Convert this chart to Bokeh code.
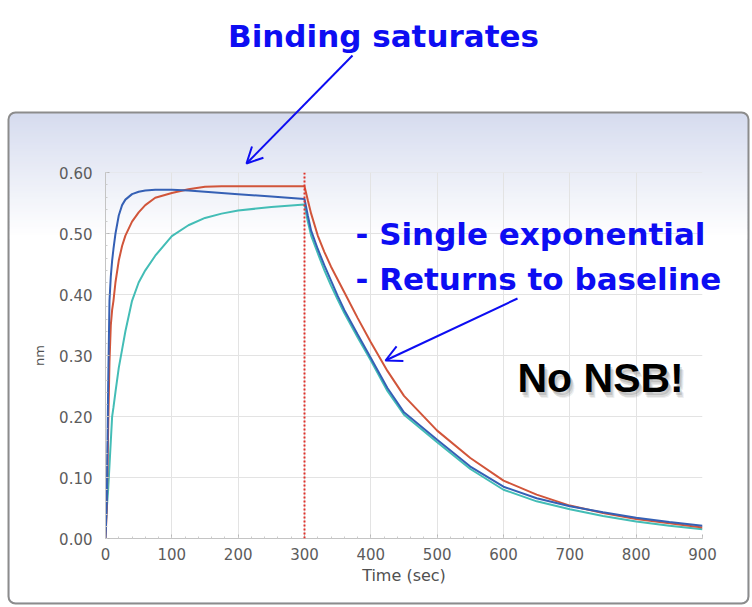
from bokeh.plotting import figure
from bokeh.models import (Label, Arrow, OpenHead, Span, BoxAnnotation,
                          SingleIntervalTicker, NumeralTickFormatter, Range1d)
from bokeh.embed import file_html
from bokeh.resources import INLINE

# ---------------- data ----------------
time_sec = [0, 2, 4, 6, 8, 10, 12, 15, 20, 25, 30, 40, 50, 60, 75, 100, 125, 150,
            175, 200, 250, 300, 305, 310, 320, 330, 340, 350, 360, 380, 400, 425,
            450, 500, 550, 600, 650, 700, 750, 800, 850, 900]

blue_nm = [0.000, 0.060, 0.250, 0.390, 0.430, 0.456, 0.475, 0.500, 0.530, 0.547,
           0.556, 0.565, 0.569, 0.571, 0.572, 0.572, 0.571, 0.569, 0.567, 0.565,
           0.561, 0.557, 0.530, 0.505, 0.475, 0.448, 0.423, 0.398, 0.375, 0.335,
           0.296, 0.247, 0.207, 0.162, 0.118, 0.085, 0.066, 0.053, 0.043, 0.034,
           0.027, 0.021]

red_nm = [0.000, 0.050, 0.180, 0.290, 0.350, 0.375, 0.390, 0.420, 0.456, 0.480,
          0.497, 0.520, 0.535, 0.547, 0.559, 0.567, 0.573, 0.577, 0.578, 0.578,
          0.578, 0.578, 0.555, 0.533, 0.497, 0.470, 0.446, 0.425, 0.404, 0.362,
          0.322, 0.275, 0.234, 0.177, 0.132, 0.095, 0.072, 0.054, 0.042, 0.032,
          0.025, 0.018]

teal_nm = [0.020, 0.050, 0.080, 0.120, 0.160, 0.200, 0.215, 0.240, 0.280, 0.310,
           0.340, 0.390, 0.420, 0.440, 0.464, 0.496, 0.514, 0.526, 0.533, 0.538,
           0.544, 0.548, 0.520, 0.497, 0.468, 0.440, 0.415, 0.392, 0.370, 0.330,
           0.292, 0.242, 0.203, 0.158, 0.114, 0.080, 0.061, 0.048, 0.037, 0.028,
           0.021, 0.015]

x_ticks_step = 100
y_ticks_step = 0.1
switch_time = 300

# ---------------- layout constants ----------------
W, H = 752, 607
FL, FR, FT, FB = 105, 702, 172, 538
XMAX, YMAX = 900, 0.6005
BLUE_TXT = "#0d0df2"
TOP_RGB = (214, 220, 239)
ABS = {"position": "absolute", "left": "0px", "top": "0px"}


def pixel_figure():
    f = figure(width=W, height=H, output_backend="svg", toolbar_location=None,
               x_range=Range1d(0, W), y_range=Range1d(H, 0),
               x_axis_type=None, y_axis_type=None, title=None,
               min_border=0)
    f.background_fill_color = None
    f.border_fill_color = None
    f.outline_line_color = None
    f.styles = ABS
    return f


# ---------------- background panel ----------------
bg = pixel_figure()


def grad_color(py, y0=113.0, y1=235.0):
    t = min(max((py - y0) / (y1 - y0), 0.0), 1.0)
    return "#%02x%02x%02x" % tuple(int(c + (255 - c) * t) for c in TOP_RGB)


bg.add_layout(BoxAnnotation(left=0, right=W, top=0, bottom=H, fill_color="white",
                            fill_alpha=1.0, line_color=None, level="image"))
bg.add_layout(BoxAnnotation(left=8, right=748, top=112, bottom=603,
                            fill_color=grad_color(113), fill_alpha=1.0,
                            line_color=None, border_radius=7))
bg.add_layout(BoxAnnotation(left=9, right=747, top=225, bottom=602,
                            fill_color="white", fill_alpha=1.0,
                            line_color=None, border_radius=6))
y = 118.0
while y < 236.0:
    bg.add_layout(BoxAnnotation(left=9, right=747, top=y, bottom=y + 3.6,
                                fill_color=grad_color(y + 1.5), fill_alpha=1.0,
                                line_color=None))
    y += 3.0
bg.add_layout(BoxAnnotation(left=8, right=748, top=112, bottom=603,
                            fill_alpha=0.0, line_color="#8c8c8c", line_alpha=1.0,
                            line_width=2, border_radius=7))

# ---------------- data chart ----------------
p = figure(width=W, height=H, output_backend="svg", toolbar_location=None,
           x_range=Range1d(0, XMAX), y_range=Range1d(0, YMAX),
           min_border_left=FL, min_border_right=W - FR,
           min_border_top=FT, min_border_bottom=H - FB)
p.background_fill_color = None
p.border_fill_color = None
p.outline_line_color = None
p.styles = ABS

p.xaxis.ticker = SingleIntervalTicker(interval=x_ticks_step, num_minor_ticks=5)
p.yaxis.ticker = SingleIntervalTicker(interval=y_ticks_step, num_minor_ticks=5)
p.yaxis.formatter = NumeralTickFormatter(format="0.00")
p.xaxis.formatter = NumeralTickFormatter(format="0")
for ax in (p.xaxis, p.yaxis):
    ax.axis_line_color = "#c4c4c4"
    ax.major_tick_in = 4
    ax.major_tick_out = 0
    ax.minor_tick_in = 2
    ax.minor_tick_out = 0
    ax.major_tick_line_color = "#b8b8b8"
    ax.minor_tick_line_color = "#cccccc"
    ax.major_label_text_font = "DejaVu Sans"
    ax.major_label_text_font_size = "15px"
    ax.major_label_text_color = "#5c5c5c"
    ax.axis_label_text_font = "DejaVu Sans"
    ax.axis_label_text_font_style = "normal"
    ax.axis_label_text_color = "#505050"
p.yaxis.major_label_standoff = 13
p.xaxis.major_label_standoff = 9
p.xaxis.axis_label = "Time (sec)"
p.xaxis.axis_label_text_font_size = "16px"
p.xaxis.axis_label_standoff = 3
p.yaxis.axis_label = "nm"
p.yaxis.axis_label_text_font_size = "13px"
p.yaxis.axis_label_standoff = 9
p.xgrid.grid_line_color = "#e3e3e3"
p.ygrid.grid_line_color = "#e3e3e3"

p.line(time_sec, teal_nm, line_color="#43bdb6", line_width=2)
p.line(time_sec, red_nm, line_color="#d1553a", line_width=2)
p.line(time_sec, blue_nm, line_color="#3560b5", line_width=2)
p.add_layout(Span(location=switch_time, dimension="height", line_color="#e0302a",
                  line_dash="2 2", line_width=2))

# ---------------- foreground annotations ----------------
fg = pixel_figure()


def blue_label(px, py, text, align="left"):
    fg.add_layout(Label(x=px, y=py, text=text,
                        text_font="DejaVu Sans", text_font_style="bold",
                        text_font_size="31px", text_color=BLUE_TXT,
                        text_align=align, text_baseline="alphabetic"))


blue_label(383, 35, "Binding saturates", "center")
blue_label(355, 233, "- Single exponential")
blue_label(355, 278, "- Returns to baseline")

for ox, oy, a in [(4, 6, 0.10), (3, 5, 0.15), (2, 3, 0.20)]:
    fg.add_layout(Label(x=517 + ox, y=377 + oy, text="No NSB!",
                        text_font="Liberation Sans", text_font_style="bold",
                        text_font_size="41px", text_color="#555555", text_alpha=a,
                        text_align="left", text_baseline="alphabetic"))
fg.add_layout(Label(x=517, y=377, text="No NSB!",
                    text_font="Liberation Sans", text_font_style="bold",
                    text_font_size="41px", text_color="black",
                    text_align="left", text_baseline="alphabetic"))

fg.add_layout(Arrow(end=OpenHead(size=16, line_color=BLUE_TXT, line_width=2),
                    x_start=352, y_start=55, x_end=246, y_end=163,
                    line_color=BLUE_TXT, line_width=2))
fg.add_layout(Arrow(end=OpenHead(size=16, line_color=BLUE_TXT, line_width=2),
                    x_start=517, y_start=298, x_end=385, y_end=360,
                    line_color=BLUE_TXT, line_width=2))

# three independent roots stacked at the same page position
open("out.html", "w").write(file_html([bg, p, fg], INLINE))
